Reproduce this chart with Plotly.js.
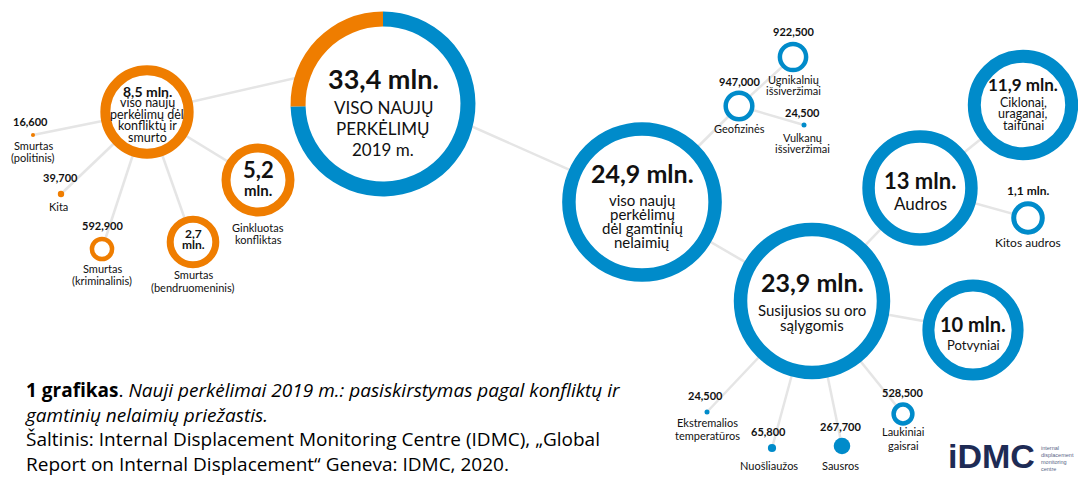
<!DOCTYPE html>
<html>
<head>
<meta charset="utf-8">
<script src="https://cdn.plot.ly/plotly-3.0.1.min.js"></script>
<style>html,body{margin:0;padding:0;background:#fff;}#chart{width:1078px;height:477px;}</style>
</head>
<body>
<div id="chart"></div>
<script>
// ---------------- DATA ----------------
const categories = ['total','conflict','disasters','political','other','criminal','communal','armed',
  'geophysical','eruptions1','eruptions2','weather','storms','cyclones','otherStorms','floods',
  'extremeTemp','landslides','drought','wildfires'];
const parents = [null,'total','total','conflict','conflict','conflict','conflict','conflict',
  'disasters','geophysical','geophysical','disasters','weather','storms','storms','weather',
  'weather','weather','weather','weather'];
const groups = ['total','conflict','disaster','conflict','conflict','conflict','conflict','conflict',
  'disaster','disaster','disaster','disaster','disaster','disaster','disaster','disaster',
  'disaster','disaster','disaster','disaster'];
const values = [33400000, 8500000, 24900000, 16600, 39700, 592900, 2700000, 5200000,
  947000, 922500, 24500, 23900000, 13000000, 11900000, 1100000, 10000000,
  24500, 65800, 267700, 528500];
const valueLabels = ['33,4 mln.','8,5 mln.','24,9 mln.','16,600','39,700','592,900','2,7 mln.','5,2 mln.',
  '947,000','922,500','24,500','23,9 mln.','13 mln.','11,9 mln.','1,1 mln.','10 mln.',
  '24,500','65,800','267,700','528,500'];
const nameLabels = [
  ['VISO NAUJŲ','PERKĖLIMŲ','2019 m.'],
  ['viso naujų','perkėlimų dėl','konfliktų ir','smurto'],
  ['viso naujų','perkėlimų','dėl gamtinių','nelaimių'],
  ['Smurtas','(politinis)'],
  ['Kita'],
  ['Smurtas','(kriminalinis)'],
  ['Smurtas','(bendruomeninis)'],
  ['Ginkluotas','konfliktas'],
  ['Geofizinės'],
  ['Ugnikalnių','išsiveržimai'],
  ['Vulkanų','išsiveržimai'],
  ['Susijusios su oro','sąlygomis'],
  ['Audros'],
  ['Ciklonai,','uraganai,','taifūnai'],
  ['Kitos audros'],
  ['Potvyniai'],
  ['Ekstremalios','temperatūros'],
  ['Nuošliaužos'],
  ['Sausros'],
  ['Laukiniai','gaisrai']
];
const totalSplit = ['disasters','conflict']; // slices of the total ring
const captionText = '<b>1 grafikas</b>. <i>Nauji perkėlimai 2019 m.: pasiskirstymas pagal konfliktų ir</i><br>' +
  '<i>gamtinių nelaimių priežastis.</i><br>' +
  'Šaltinis: Internal Displacement Monitoring Centre (IDMC), „Global<br>' +
  'Report on Internal Displacement“ Geneva: IDMC, 2020.';

// ---------------- LAYOUT (positions / styles, pixel space) ----------------
const W = 1078, H = 477;
const RADIUS_K = 16; // px per sqrt(million)
const colors = {total:'#ffffff', conflict:'#ef7d00', disaster:'#008bca'};
// x, y, ring thickness (0 = filled dot)
const nodeLayout = {
  total:[383,104,15], conflict:[147,112,10], disasters:[642,202,13.5],
  political:[33,135,0], other:[61,194,0], criminal:[102,249,4.5], communal:[193,242,7], armed:[258,180,9],
  geophysical:[739,106,4.5], eruptions1:[793,57,4.5], eruptions2:[804,125,0],
  weather:[812,301,13.5], storms:[920,188,12.5], cyclones:[1023,105,13], otherStorms:[1028,218,5],
  floods:[973,330,12], extremeTemp:[707,412,0], landslides:[772,448,0], drought:[842,446,0], wildfires:[903,414,4.5]
};
// text placement: value (y, size(s), split, dx), labels (y, line step, size, dx)
const textLayout = {
  total:{vy:78, vs:27, ly:107, ld:21, ls:17},
  conflict:{vy:91, vs:14, ly:102.5, ld:11.5, ls:12.5},
  disasters:{vy:173, vs:25, ly:200, ld:14, ls:15},
  political:{vy:121, vs:11, vdx:-3, ly:145, ld:12, ls:11},
  other:{vy:177, vs:11, vdx:-1, ly:206, ld:12, ls:11, ldx:-3},
  criminal:{vy:225, vs:11, ly:268, ld:12.5, ls:11},
  communal:{vy:233, vs:[12,12], split:11, ly:274, ld:13, ls:11},
  armed:{vy:169, vs:[22,15], split:21, ly:227, ld:12, ls:11},
  geophysical:{vy:81, vs:11, ly:128, ld:12, ls:11},
  eruptions1:{vy:31, vs:11, ly:79.5, ld:11, ls:11},
  eruptions2:{vy:112, vs:11, vdx:-2, ly:137, ld:11, ls:11, ldx:-2},
  weather:{vy:282, vs:25, ly:310, ld:15, ls:15},
  storms:{vy:180, vs:22, ly:203, ld:15, ls:17},
  cyclones:{vy:84, vs:17, ly:102, ld:11.5, ls:12.5},
  otherStorms:{vy:190, vs:12, ly:242, ld:12, ls:12},
  floods:{vy:324, vs:20, ly:345, ld:12, ls:13},
  extremeTemp:{vy:395, vs:11, vdx:-2, ly:422, ld:13, ls:11},
  landslides:{vy:431, vs:11, vdx:-4, ly:465, ld:12, ls:11, ldx:-3},
  drought:{vy:426, vs:11, vdx:-2, ly:465, ld:12, ls:11, ldx:-2},
  wildfires:{vy:392, vs:11, vdx:-1, ly:431, ld:14, ls:11}
};
// special anchor points where links meet the total ring
const linkPorts = {conflict:[383,58], disasters:[383,87]};
const FONT = 'Lato, "Open Sans", sans-serif';
const TXT = '#111111';

// ---------------- BUILD ----------------
const idx = {}; categories.forEach((c,i)=>idx[c]=i);
const radius = v => RADIUS_K * Math.sqrt(v/1e6);

// links
const lx = [], ly = [];
categories.forEach((c,i)=>{
  const p = parents[i]; if(!p) return;
  const a = linkPorts[c] && p==='total' ? linkPorts[c] : nodeLayout[p];
  const b = nodeLayout[c];
  lx.push(a[0], b[0], null); ly.push(a[1], b[1], null);
});
const linkTrace = {type:'scatter', mode:'lines', x:lx, y:ly, line:{color:'#e5e5e5', width:2.5},
  hoverinfo:'skip', showlegend:false, cliponaxis:false};

// rings / dots
const rx=[], ry=[], rs=[], rc=[], rlc=[], rlw=[];
categories.forEach((c,i)=>{
  const L = nodeLayout[c], R = radius(values[i]), t = L[2];
  const col = colors[groups[i]];
  rx.push(L[0]); ry.push(L[1]);
  if(c==='total'){ rs.push(2*(R-t)); rc.push('#ffffff'); rlc.push('#ffffff'); rlw.push(0); }
  else if(t>0){ rs.push(2*R - t); rc.push('#ffffff'); rlc.push(col); rlw.push(t); }
  else { rs.push(2*R); rc.push(col); rlc.push(col); rlw.push(0); }
});
const ringTrace = {type:'scatter', mode:'markers', x:rx, y:ry,
  marker:{size:rs, color:rc, opacity:1, line:{color:rlc, width:rlw}},
  hoverinfo:'skip', showlegend:false, cliponaxis:false};

// total ring as pie
const T = nodeLayout.total, RT = radius(values[idx.total]);
const pieTrace = {type:'pie', values: totalSplit.map(c=>values[idx[c]]), labels: totalSplit,
  marker:{colors: totalSplit.map(c=>colors[groups[idx[c]]]), line:{width:0}},
  hole:(RT - T[2])/RT, sort:false, direction:'counterclockwise', rotation:0,
  textinfo:'none', hoverinfo:'skip', showlegend:false,
  domain:{x:[(T[0]-RT)/W,(T[0]+RT)/W], y:[1-(T[1]+RT)/H, 1-(T[1]-RT)/H]}};

// text annotations
const ann = [];
function addText(x,y,text,size,bold){
  ann.push({xref:'x', yref:'y', x:x, y:y, text: bold?('<b>'+text+'</b>'):text, showarrow:false,
    xanchor:'center', yanchor:'middle', font:{family:FONT, size:size, color:TXT}});
}
categories.forEach((c,i)=>{
  const L = nodeLayout[c], S = textLayout[c];
  const vx = L[0] + (S.vdx||0);
  if(S.split){
    const parts = valueLabels[i].split(' ');
    parts.forEach((p,k)=>addText(vx, S.vy + k*S.split, p, S.vs[k], true));
  } else addText(vx, S.vy, valueLabels[i], S.vs, true);
  nameLabels[i].forEach((t,k)=>addText(L[0]+(S.ldx||0), S.ly + k*S.ld, t, S.ls, false));
});
// caption
ann.push({xref:'x', yref:'y', x:23, y:375, xanchor:'left', yanchor:'top', align:'left', showarrow:false,
  text: captionText, font:{family:'"Open Sans", sans-serif', size:19, color:'#000'}});
// logo
ann.push({xref:'x', yref:'y', x:946, y:477, xanchor:'left', yanchor:'bottom', showarrow:false,
  text:'<b>iDMC</b>', font:{family:'"Liberation Sans", Arial, sans-serif', size:34, color:'#1e2b55'}});
ann.push({xref:'x', yref:'y', x:1039, y:458, xanchor:'left', yanchor:'middle', align:'left', showarrow:false,
  text:'internal<br>displacement<br>monitoring<br>centre', font:{family:'"Liberation Sans", Arial, sans-serif', size:5.5, color:'#5a6686'}});

const layout = {
  width:W, height:H, margin:{l:0,r:0,t:0,b:0,pad:0},
  paper_bgcolor:'#ffffff', plot_bgcolor:'#ffffff',
  xaxis:{range:[0,W], visible:false, fixedrange:true},
  yaxis:{range:[H,0], visible:false, fixedrange:true},
  annotations: ann, showlegend:false, hovermode:false
};
Plotly.newPlot('chart', [linkTrace, ringTrace, pieTrace], layout, {staticPlot:true, displayModeBar:false});
</script>
</body>
</html>
